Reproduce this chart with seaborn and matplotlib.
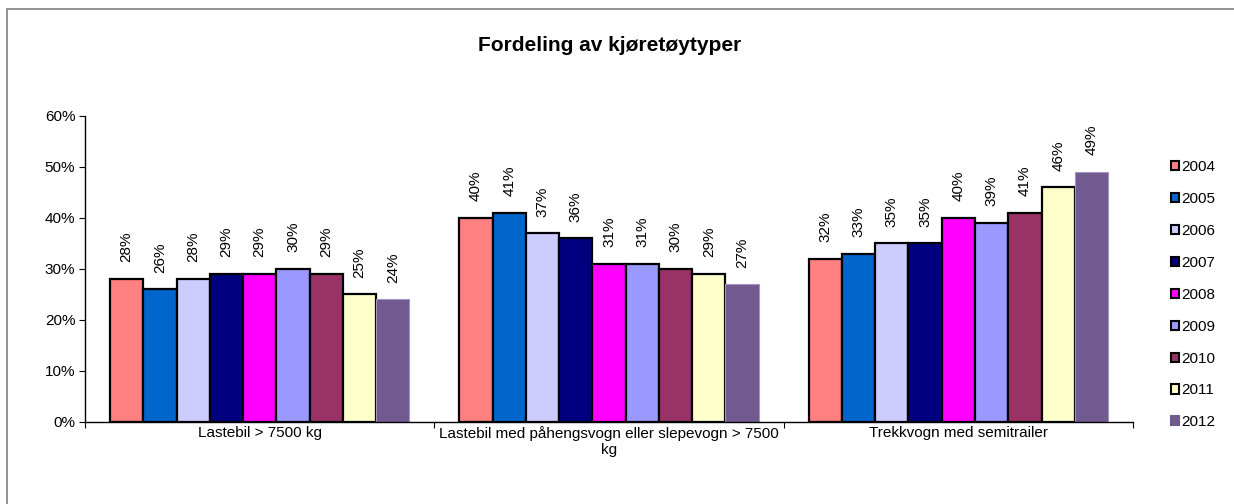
import matplotlib
matplotlib.use("Agg")
import matplotlib.pyplot as plt
import matplotlib.patches as mpatches
import seaborn as sns
import pandas as pd

# Vehicle types (x categories) and years (series)
categories = [
    "Lastebil > 7500 kg",
    "Lastebil med påhengsvogn eller slepevogn > 7500\nkg",
    "Trekkvogn med semitrailer",
]
years = ["2004", "2005", "2006", "2007", "2008", "2009", "2010", "2011", "2012"]

# Share per year (%), one list per vehicle type
lastebil = [28, 26, 28, 29, 29, 30, 29, 25, 24]
lastebil_henger = [40, 41, 37, 36, 31, 31, 30, 29, 27]
trekkvogn = [32, 33, 35, 35, 40, 39, 41, 46, 49]

yticks = [0, 10, 20, 30, 40, 50, 60]

colors = ["#FF8080", "#0066CC", "#CCCCFF", "#000080", "#FF00FF",
          "#9999FF", "#993366", "#FFFFCC", "#705A90"]

rows = []
for cat, vals in zip(categories, [lastebil, lastebil_henger, trekkvogn]):
    for yr, v in zip(years, vals):
        rows.append({"type": cat, "year": yr, "share": v})
df = pd.DataFrame(rows)

sns.set_theme(style="white")
plt.rcParams["font.family"] = ["Liberation Sans", "DejaVu Sans"]
plt.rcParams["text.color"] = "black"
plt.rcParams["xtick.color"] = "black"
plt.rcParams["ytick.color"] = "black"

FS = 11

fig = plt.figure(figsize=(12.34, 5.04), dpi=100)
ax = fig.add_axes([0.0689, 0.163, 0.8493, 0.607])

sns.barplot(data=df, x="type", y="share", hue="year", order=categories,
            hue_order=years, palette=colors, saturation=1, width=0.857,
            edgecolor="black", linewidth=1.6, errorbar=None, ax=ax)

# Last series drawn without the heavy black outline
for patch in ax.containers[-1]:
    patch.set_edgecolor("#A593C2")
    patch.set_linewidth(0.8)

for cont in ax.containers:
    ax.bar_label(cont, labels=[f"{v:.0f}%" for v in cont.datavalues],
                 rotation=90, padding=12, fontsize=FS, color="black")

ax.set_ylim(0, 60)
ax.set_xlim(-0.5, 2.5)
ax.set_yticks(yticks)
ax.set_yticklabels([f"{t}%" for t in yticks], fontsize=FS)
ax.set_xticks(range(len(categories)))
ax.set_xticklabels(categories, fontsize=FS, linespacing=1.2)
ax.tick_params(axis="x", length=0, pad=3)
ax.tick_params(axis="y", length=4, width=0.8, direction="out", pad=3, left=True)
# Minor ticks on category boundaries
ax.set_xticks([-0.5, 0.5, 1.5, 2.5], minor=True)
ax.tick_params(axis="x", which="minor", length=4, width=0.8, direction="out", bottom=True)
ax.set_xlabel("")
ax.set_ylabel("")
for side in ["top", "right"]:
    ax.spines[side].set_visible(False)
for side in ["left", "bottom"]:
    ax.spines[side].set_color("black")
    ax.spines[side].set_linewidth(1.0)

# Legend with small square swatches
handles = []
for i, (yr, c) in enumerate(zip(years, colors)):
    ec = "black" if i < len(years) - 1 else c
    handles.append(mpatches.Patch(facecolor=c, edgecolor=ec, linewidth=1.5, label=yr))
ax.legend(handles=handles, loc="upper left", bbox_to_anchor=(1.03, 0.875),
          frameon=False, fontsize=FS, handlelength=0.55, handleheight=0.55,
          handletextpad=0.15, labelspacing=1.17, borderaxespad=0)

fig.text(0.494, 0.91, "Fordeling av kjøretøytyper", ha="center", va="center",
         fontsize=15, fontweight="bold")

# Chart area frame
fig.patches.append(mpatches.Rectangle((0.0057, -0.05), 1.2, 0.0321 + 1.0,
                                      transform=fig.transFigure, fill=False,
                                      edgecolor="#808080", linewidth=1.2))

fig.savefig("out.png", dpi=100, facecolor="white")
